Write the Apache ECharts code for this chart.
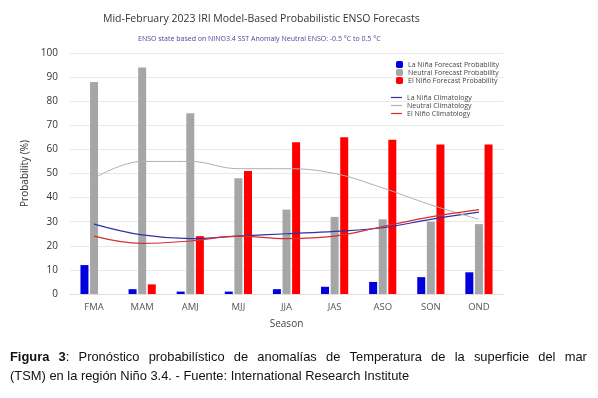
<!DOCTYPE html>
<html>
<head>
<meta charset="utf-8">
<script src="https://cdn.jsdelivr.net/npm/echarts@6/dist/echarts.min.js"></script>
<style>html,body{margin:0;padding:0;background:#fff;}#c{width:598px;height:398px;}</style>
</head>
<body>
<div id="c"></div>
<script>
var seasons = ['FMA','MAM','AMJ','MJJ','JJA','JAS','ASO','SON','OND'];
var laNinaProb = [12, 2, 1, 1, 2, 3, 5, 7, 9];
var neutralProb = [88, 94, 75, 48, 35, 32, 31, 30, 29];
var elNinoProb = [0, 4, 24, 51, 63, 65, 64, 62, 62];
var laNinaClim = [29, 24.5, 23, 24, 25, 26, 27.5, 31, 34];
var neutralClim = [48, 55, 55, 52, 52, 50, 44, 37, 31];
var elNinoClim = [24, 21, 22, 24, 23, 24, 28, 32, 35];
var yTicks = [0,10,20,30,40,50,60,70,80,90,100];
var captionLine1 = ['Figura', '3', 'Pronóstico', 'probabilístico', 'de', 'anomalías', 'de', 'Temperatura', 'de', 'la', 'superficie', 'del', 'mar'];
var captionLine2 = '(TSM) en la región Niño 3.4. - Fuente: International Research Institute';

// justified first caption line: wide word spaces
var line1 = '{b|' + captionLine1[0] + '}{s| }{b|' + captionLine1[1] + '}{t|:}';
for (var i = 2; i < captionLine1.length; i++) line1 += '{s| }{t|' + captionLine1[i] + '}';

var chart = echarts.init(document.getElementById('c'));
var fam = 'Open Sans';
chart.setOption({
  animation: false,
  backgroundColor: '#fff',
  graphic: [
    {type:'text', left: 103, top: 14, style:{text:'Mid-February 2023 IRI Model-Based Probabilistic ENSO Forecasts', font:'10.5px "Open Sans"', fill:'#333'}},
    {type:'text', left: 138, top: 35, style:{text:'ENSO state based on NINO3.4 SST Anomaly Neutral ENSO: -0.5 \u00b0C to 0.5 \u00b0C', font:'7px "Open Sans"', fill:'#4d4699'}},
    {type:'text', left: 10, top: 351, style:{text: line1,
      rich:{
        b:{fontWeight:'bold', fontFamily:'Liberation Sans', fontSize:12.9, fill:'#111'},
        t:{fontFamily:'Liberation Sans', fontSize:12.9, fill:'#111'},
        s:{fontFamily:'Liberation Sans', fontSize:12.9, width: 9.2}
      }}},
    {type:'text', left: 10, top: 370, style:{text: captionLine2, font:'12.9px "Liberation Sans"', fill:'#111'}}
  ],
  legend: [
    {data:['La Niña Forecast Probability','Neutral Forecast Probability','El Niño Forecast Probability'],
     orient:'vertical', left: 391, top: 56, itemWidth: 7, itemHeight: 7, itemGap: 1,
     textStyle:{fontSize:7, color:'#444', fontFamily:fam}},
    {data:['La Niña Climatology','Neutral Climatology','El Niño Climatology'],
     orient:'vertical', left: 386, top: 89, icon:'rect', itemWidth: 11, itemHeight: 1.2, itemGap: 1,
     textStyle:{fontSize:7, color:'#444', fontFamily:fam}}
  ],
  grid: {left: 70, right: 95, top: 53, bottom: 104},
  xAxis: {
    type:'category', data: seasons,
    name:'Season', nameLocation:'middle', nameGap: 25,
    nameTextStyle:{fontSize:10, color:'#444', fontFamily:fam},
    axisLine:{lineStyle:{color:'#ddd'}}, axisTick:{show:false},
    axisLabel:{fontSize:9.5, color:'#555', fontFamily:fam, margin: 8}
  },
  yAxis: {
    type:'value', min: 0, max: 100, interval: 10,
    name:'Probability (%)', nameLocation:'middle', nameGap: 38,
    nameTextStyle:{fontSize:10, color:'#333', fontFamily:fam},
    axisLine:{show:false}, axisTick:{show:false},
    splitLine:{lineStyle:{color:'#e8e8e8'}},
    axisLabel:{fontSize:10, color:'#333', fontFamily:fam, margin: 12,
      formatter: function(v){ return yTicks.indexOf(v) >= 0 ? String(v) : ''; }}
  },
  series: [
    {name:'La Niña Forecast Probability', type:'bar', data: laNinaProb, barWidth: 8, barGap:'20%', itemStyle:{color:'#0000dd'}},
    {name:'Neutral Forecast Probability', type:'bar', data: neutralProb, barWidth: 8, barGap:'20%', itemStyle:{color:'#a6a6a6'}},
    {name:'El Niño Forecast Probability', type:'bar', data: elNinoProb, barWidth: 8, barGap:'20%', itemStyle:{color:'#ff0000'}},
    {name:'La Niña Climatology', type:'line', data: laNinaClim, smooth: 0.4, symbol:'none', lineStyle:{width:1.2, color:'#3030a8'}, itemStyle:{color:'#3030a8'}, z: 5},
    {name:'Neutral Climatology', type:'line', data: neutralClim, smooth: 0.4, symbol:'none', lineStyle:{width:1, color:'#b0b0b0'}, itemStyle:{color:'#b0b0b0'}, z: 5},
    {name:'El Niño Climatology', type:'line', data: elNinoClim, smooth: 0.4, symbol:'none', lineStyle:{width:1.2, color:'#d43030'}, itemStyle:{color:'#d43030'}, z: 5}
  ]
});
</script>
</body>
</html>
